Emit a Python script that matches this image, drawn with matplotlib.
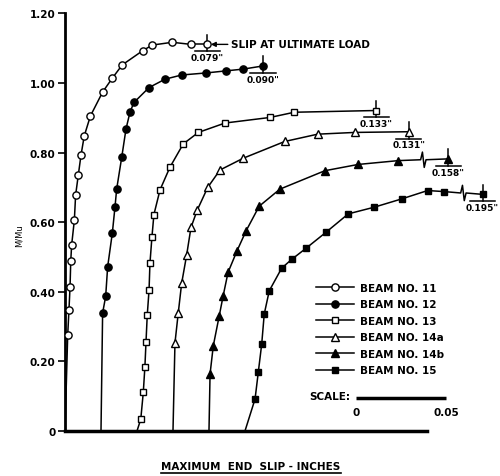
import matplotlib
matplotlib.use('Agg')
import matplotlib.pyplot as plt
from matplotlib.lines import Line2D

plt.rcParams['font.family'] = 'DejaVu Sans'
plt.rcParams['font.weight'] = 'bold'
plt.rcParams['font.size'] = 7.5

beam_names = ['BEAM NO. 11', 'BEAM NO. 12', 'BEAM NO. 13',
              'BEAM NO. 14a', 'BEAM NO. 14b', 'BEAM NO. 15']
# every curve starts 0.02 in. right of the previous one
origin = [0.0, 0.02, 0.04, 0.06, 0.08, 0.10]

# slip (in.) measured from each curve's own origin, and M/Mu
slip_11 = [0.0015, 0.0022, 0.0028, 0.0032, 0.0037, 0.0052, 0.0059, 0.0074, 0.0089,
           0.0107, 0.0141, 0.0209, 0.0263, 0.0318, 0.0432, 0.0485, 0.0596, 0.0700]
m_11 = [0.276, 0.348, 0.414, 0.489, 0.535, 0.606, 0.678, 0.736, 0.793,
        0.848, 0.905, 0.974, 1.014, 1.052, 1.093, 1.109, 1.117, 1.111]

slip_12 = [0.0009, 0.0026, 0.0037, 0.0063, 0.0078, 0.0087, 0.0115, 0.0139,
           0.0161, 0.0183, 0.0267, 0.0356, 0.0448, 0.0586, 0.0697, 0.0791]
m_12 = [0.339, 0.387, 0.472, 0.569, 0.645, 0.695, 0.786, 0.868,
        0.916, 0.944, 0.987, 1.011, 1.023, 1.029, 1.035, 1.040]

slip_13 = [0.0021, 0.0035, 0.0044, 0.0050, 0.0057, 0.0067, 0.0072, 0.0083,
           0.0094, 0.0128, 0.0183, 0.0257, 0.0341, 0.0489, 0.0739, 0.0874]
m_13 = [0.034, 0.111, 0.185, 0.255, 0.333, 0.405, 0.482, 0.557,
        0.622, 0.693, 0.758, 0.825, 0.858, 0.885, 0.901, 0.916]

slip_14a = [0.0011, 0.0029, 0.0048, 0.0076, 0.0100, 0.0135,
            0.0193, 0.0261, 0.0391, 0.0621, 0.0804, 0.1011]
m_14a = [0.253, 0.338, 0.424, 0.506, 0.585, 0.635,
         0.700, 0.750, 0.784, 0.832, 0.853, 0.858]

slip_14b = [0.0006, 0.0024, 0.0057, 0.0079, 0.0106, 0.0156,
            0.0206, 0.0279, 0.0394, 0.0644, 0.0829, 0.1052]
m_14b = [0.164, 0.245, 0.331, 0.389, 0.456, 0.518,
         0.575, 0.646, 0.695, 0.748, 0.766, 0.777]

slip_15 = [0.0056, 0.0074, 0.0093, 0.0107, 0.0135, 0.0204, 0.0259,
           0.0339, 0.0450, 0.0574, 0.0717, 0.0871, 0.1015, 0.1107]
m_15 = [0.092, 0.169, 0.250, 0.336, 0.403, 0.468, 0.493,
        0.525, 0.571, 0.624, 0.643, 0.667, 0.691, 0.688]

slips = [slip_11, slip_12, slip_13, slip_14a, slip_14b, slip_15]
mvals = [m_11, m_12, m_13, m_14a, m_14b, m_15]

# slip at ultimate load
ult_slip = [0.079, 0.090, 0.133, 0.131, 0.158, 0.195]
ult_m = [1.111, 1.049, 0.921, 0.860, 0.782, 0.680]
# length of slip axis cut out by the break symbol
break_gap = [0, 0, 0, 0, 0.025, 0.063]

markers = ['o', 'o', 's', '^', '^', 's']
filled = [False, True, False, False, True, True]
msize = [5.2, 5.2, 3.8, 5.8, 5.2, 4.3]

y_ticks = [0, 0.2, 0.4, 0.6, 0.8, 1.0, 1.2]
y_ticklabels = ['0', '0.20', '0.40', '0.60', '0.80', '1.00', '1.20']

fig = plt.figure(figsize=(5, 4.77), dpi=100)
ax = fig.add_axes([0.13, 0.0943, 0.87, 0.8755])

for i in range(6):
    x0 = origin[i]
    xs = [x0] + [x0 + s for s in slips[i]]
    ys = [0] + mvals[i]
    fc = 'k' if filled[i] else 'white'
    ax.plot(xs, ys, color='k', lw=1.1, zorder=2)
    ax.plot(xs[1:], ys[1:], ls='none', marker=markers[i], ms=msize[i],
            mfc=fc, mec='k', mew=1.0, zorder=3)

    xu = x0 + ult_slip[i] - break_gap[i]
    yu = ult_m[i]
    if break_gap[i] > 0:
        xb = (xs[-1] + xu) / 2
        yb = (ys[-1] + yu) / 2
        ax.plot([xs[-1], xb - 0.0015, xb - 0.0005, xb + 0.0005, xb + 0.0015, xu],
                [ys[-1], yb, yb + 0.022, yb - 0.022, yb, yu], color='k', lw=1.1, zorder=2)
    else:
        ax.plot([xs[-1], xu], [ys[-1], yu], color='k', lw=1.1, zorder=2)
    # ultimate load point with its slip value
    ax.plot([xu, xu], [yu - 0.02, yu + 0.028], color='k', lw=1.1, zorder=2)
    ax.plot([xu - 0.007, xu + 0.007], [yu - 0.02, yu - 0.02], color='k', lw=1.1)
    ax.plot([xu], [yu], ls='none', marker=markers[i], ms=msize[i],
            mfc=fc, mec='k', mew=1.0, zorder=3)
    ax.text(xu, yu - 0.025, '%.3f"' % ult_slip[i], ha='center', va='top',
            fontsize=6.5)

ax.annotate('SLIP AT ULTIMATE LOAD', xy=(ult_slip[0] + 0.002, ult_m[0]),
            xytext=(ult_slip[0] + 0.013, ult_m[0]), va='center', ha='left',
            arrowprops=dict(arrowstyle='-|>', color='k', lw=1.0,
                            mutation_scale=7, shrinkA=0, shrinkB=0))

handles = [Line2D([], [], color='k', lw=1.1, marker=markers[i], ms=msize[i],
                  mfc='k' if filled[i] else 'white', mec='k', mew=1.0)
           for i in range(6)]
ax.legend(handles, beam_names, loc='upper left', bbox_to_anchor=(316 / 500, 1 - 284 / 477),
          bbox_transform=fig.transFigure, frameon=False, handlelength=3.6,
          handletextpad=0.6, labelspacing=0.62, borderpad=0, borderaxespad=0)

# scale bar
sx = 0.1617
ax.plot([sx, sx + 0.05], [0.095, 0.095], color='k', lw=2.5, solid_capstyle='butt', clip_on=False)
ax.text(sx - 0.003, 0.1, 'SCALE:', ha='right', va='center')
ax.text(sx, 0.07, '0', ha='center', va='top')
ax.text(sx + 0.05, 0.07, '0.05', ha='center', va='top')

ax.set_xlim(0, 0.2417)
ax.set_ylim(0, 1.2)
ax.set_xticks([])
ax.set_yticks(y_ticks)
ax.set_yticklabels(y_ticklabels)
ax.tick_params(axis='y', direction='out', length=5, width=1.2, pad=2)
for s in ['top', 'right']:
    ax.spines[s].set_visible(False)
ax.spines['left'].set_linewidth(2)
ax.spines['bottom'].set_linewidth(2.5)
ax.spines['bottom'].set_bounds(0, 0.201)
ax.set_ylabel('M/Mu', fontsize=6)
ax.yaxis.set_label_coords(-0.095, 0.47)

xl = fig.text(251 / 500, 1 - 467 / 477, 'MAXIMUM  END  SLIP - INCHES', ha='center', va='center')
fig.canvas.draw()
bb = xl.get_window_extent().transformed(fig.transFigure.inverted())
fig.add_artist(Line2D([bb.x0, bb.x1], [bb.y0 - 0.004, bb.y0 - 0.004], color='k', lw=1.2))

fig.savefig('out.png', dpi=100)
